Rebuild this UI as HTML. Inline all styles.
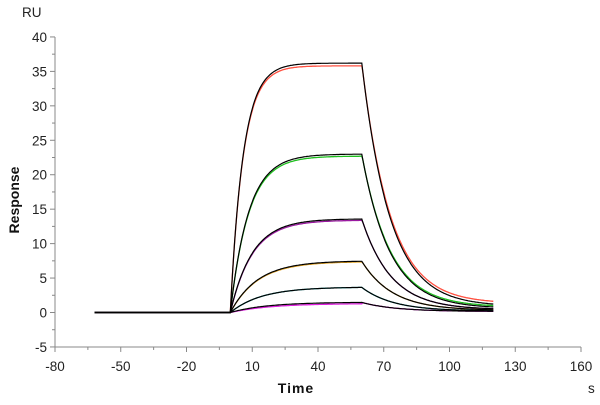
<!DOCTYPE html>
<html><head><meta charset="utf-8"><style>
body{margin:0;background:#fff}
svg text{font-family:"Liberation Sans",sans-serif}
</style></head><body>
<svg id="c" width="600" height="400"></svg>
<script>
const xTicks=[-80,-50,-20,10,40,70,100,130,160];
const yTicks=[-5,0,5,10,15,20,25,30,35,40];
const seriesNames=['c1','c2','c3','c4','c5','c6'];
const plateau=[36.2,23.0,13.6,7.5,3.7,1.5];
const kobs=[0.17,0.12,0.1,0.08,0.07,0.06];
const dissEnd=[0.9,0.6,0.4,0.3,0.2,0.15];
const dissRate=[0.078,0.078,0.075,0.072,0.07,0.065];
const dataColors=['#ff5040','#20c020','#9a1aa0','#e0a020','#20c0c0','#e020e0'];
const dataOffset=[-0.4,-0.3,-0.2,-0.1,0,-0.2];
const tInject=0, tStop=60, tEnd=120, tStart=-62;

const svg=document.getElementById('c');
const NS='http://www.w3.org/2000/svg';
const X=v=>55+(v+80)*(526/240);
const Y=v=>312.5-v*(310/45);
function mk(tag,attrs,txt){const e=document.createElementNS(NS,tag);for(const k in attrs)e.setAttribute(k,attrs[k]);if(txt!==undefined)e.textContent=txt;svg.appendChild(e);return e;}

let e=mk('line',{x1:X(-80),y1:Y(-5),x2:X(160),y2:Y(-5),stroke:'#888','stroke-width':1});

e=mk('line',{x1:X(-80),y1:Y(-5),x2:X(-80),y2:Y(40),stroke:'#888','stroke-width':1});

for(let v=-80;v<=160;v+=15){const major=xTicks.includes(v);mk('line',{x1:X(v),x2:X(v),y1:Y(-5),y2:Y(-5)+(major?5:3),stroke:'#888'});}
for(let v=-5;v<=40;v+=2.5){const major=yTicks.includes(v);mk('line',{x1:X(-80),x2:X(-80)-(major?5:3),y1:Y(v),y2:Y(v),stroke:'#888'});}
xTicks.forEach(v=>{const t=mk('text',{x:X(v),y:371,'text-anchor':'middle','font-size':13.5,fill:'#222'},v);
});
yTicks.forEach(v=>{const t=mk('text',{x:47,y:Y(v)+5,'text-anchor':'end','font-size':13.5,fill:'#222'},v);
});
e=mk('text',{x:22,y:17,'font-size':13.5,fill:'#222'},'RU');
e=mk('text',{x:296,y:393,'text-anchor':'middle','font-size':14,'font-weight':'bold',fill:'#111','letter-spacing':'1'},'Time');

e=mk('text',{x:588,y:393,'font-size':13.5,fill:'#222'},'s');
e=mk('text',{x:19,y:200,'text-anchor':'middle','font-size':14,'font-weight':'bold',fill:'#111',transform:'rotate(-90 19 200)'},'Response');


function val(i,t,fit){
  if(t<=tInject)return 0;
  const Rt=plateau[i]*(1-Math.exp(-kobs[i]*(t-tInject)));
  if(t<=tStop)return fit?Rt:Rt+dataOffset[i]*(1-Math.exp(-(t)/10));
  const R0=plateau[i]*(1-Math.exp(-kobs[i]*(tStop-tInject)));
  const d=t-tStop;
  const v=dissEnd[i]+(R0-dissEnd[i])*Math.exp(-dissRate[i]*d);
  return fit?v:v+(i===0?0.4*Math.min(d,10)/10:i===1?0.2*Math.min(d,10)/10:0);
}
function path(i,fit){
  let d='';
  for(let t=tStart;t<=tEnd;t+=0.5){d+=(d?'L':'M')+X(t).toFixed(1)+','+Y(val(i,t,fit)).toFixed(1);}
  return d;
}
seriesNames.forEach((n,i)=>{
  const p=mk('path',{d:path(i,false),fill:'none',stroke:dataColors[i],'stroke-width':1.3});
  
});
seriesNames.forEach((n,i)=>{
  const p=mk('path',{d:path(i,true),fill:'none',stroke:'#000','stroke-width':1.2});
  
});
</script>
</body></html>
